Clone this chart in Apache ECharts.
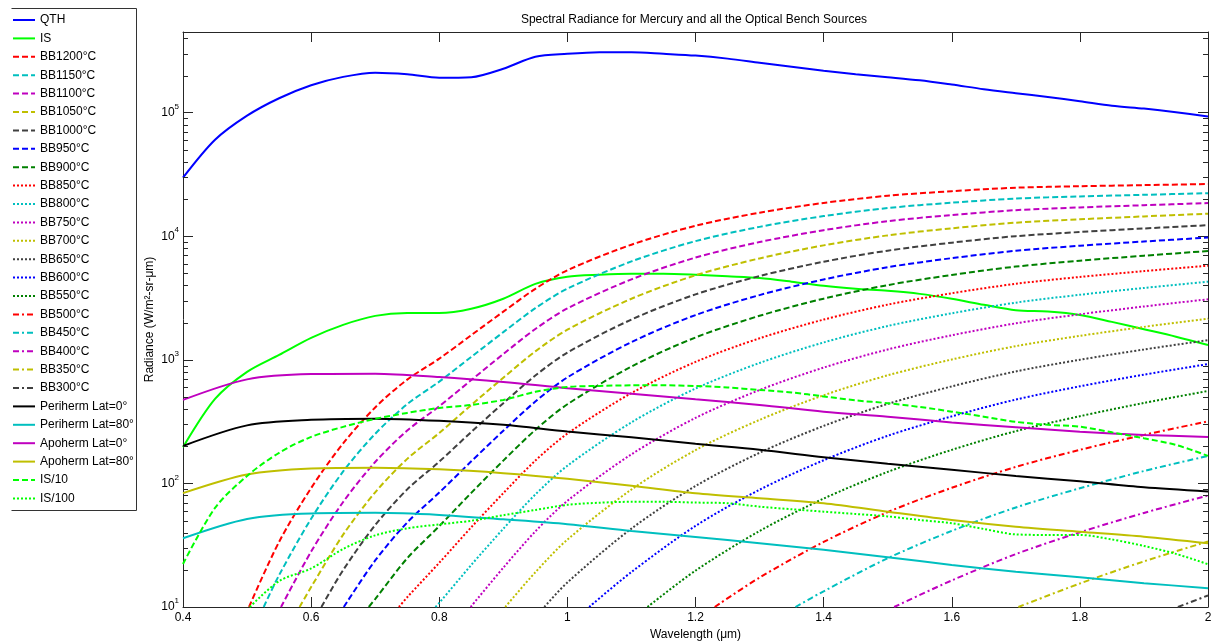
<!DOCTYPE html>
<html><head><meta charset="utf-8">
<script src="https://cdn.jsdelivr.net/npm/echarts@6/dist/echarts.min.js"></script>
<style>html,body{margin:0;padding:0;background:#fff}#chart{width:1211px;height:642px}</style>
</head><body><div id="chart"></div>
<script>
// ---------------- data ----------------
const wlFine = [0.4,0.45,0.5,0.55,0.6,0.65,0.7,0.75,0.8,0.85,0.9,0.95,1.0,1.05,1.1,1.15,1.2,1.25,1.3,1.35,1.4,1.45,1.5,1.55,1.6,1.65,1.7,1.75,1.8,1.85,1.9,1.95,2.0];
const qth = [29800,60400,94700,131000,167000,195000,211000,205000,192000,194000,227000,284000,300000,309000,309000,300000,290000,274000,254000,236000,219000,205000,194000,183000,169000,155000,144000,134000,124000,114000,108000,101000,93300];
const isSphere = [196,483,800,1097,1507,1920,2270,2390,2390,2590,3120,4120,4700,4880,4970,4970,4880,4740,4590,4290,3970,3760,3620,3420,3120,2790,2520,2460,2310,2030,1770,1540,1320];
const is10 = [22.3,63.4,115,177,238,287,333,372,408,432,474,551,604,615,622,622,615,598,571,545,506,470,446,416,381,347,315,298,288,259,232,205,167];
const is100 = [null,null,9.5,16.2,20.5,29.5,38,43.3,46.6,49.9,55.3,61,67.1,69.8,71,71,70,69.2,64.9,61.8,59.1,56.6,54.1,50.6,47.6,42.8,38.7,38.3,38.3,35.2,31.2,26.9,22.2];

const wlPlanet = [0.4,0.5,0.6,0.7,0.8,0.9,1.0,1.1,1.2,1.3,1.4,1.5,1.6,1.7,1.8,1.9,2.0];
const periLat0  = [201,295,327,334,321,298,263,236,209,187,163,144,129,115,104,93,86];
const periLat80 = [36,51.6,57.2,57.8,55.6,51.2,46.8,41.2,36.9,32.8,29,25.3,21.9,19.3,17.4,15.6,14.2];
const apoLat0   = [474,695,767,773,727,663,589,532,479,432,381,347,311,285,262,247,238];
const apoLat80  = [83.4,118,132,134,130,121,109,95.8,83.2,75.9,69.2,59.1,50.6,44.7,40.7,37.1,32.8];

const wlBB = [0.55,0.6,0.65,0.7,0.75,0.8,0.85,0.9,0.95,1.0,1.1,1.2,1.3,1.4,1.5,1.6,1.7,1.8,1.9,2.0];
const bb1200 = [33.7,91.8,211,412,692,1023,1585,2455,3758,5309,8551,12160,15520,18620,21280,23170,24720,25410,25940,26490];
const bb1150 = [18.1,51.8,125,252,438,666,1058,1676,2619,3767,6259,9138,11920,14570,16930,18700,20200,21000,21660,22310];
const bb1100 = [null,28.1,70.8,149,268,421,686,1114,1778,2607,4479,6724,8983,11200,13250,14860,16270,17120,17840,18560];
const bb1050 = [null,14.5,38.5,84.7,158,256,431,717,1172,1754,3124,4834,6623,8444,10170,11600,12890,13730,14480,15220];
const bb1000 = [null,null,19.9,46.0,89.5,150,261,446,747,1145,2120,3386,4769,6223,7652,8882,10020,10830,11570,12290];
const bb950  = [null,null,null,23.8,48.3,84.4,151,267,460,721,1393,2304,3343,4474,5623,6655,7638,8383,9073,9761];
const bb900  = [null,null,null,11.6,24.8,45.1,83.9,153,271,437,883,1518,2273,3128,4026,4865,5686,6344,6967,7598];
const bb850  = [null,null,null,null,12.0,22.8,44.2,83.4,153,253,538,963,1494,2118,2798,3459,4126,4686,5227,5781];
const bb800  = [null,null,null,null,null,10.8,21.9,43.0,81.4,139,312,586,944,1383,1879,2382,2904,3363,3818,4291];
const bb750  = [null,null,null,null,null,null,10.1,20.8,40.9,72.3,172,339,570,866,1214,1581,1975,2337,2704,3092];
const bb700  = [null,null,null,null,null,null,null,null,19.1,35.1,89.3,186,327,517,750,1007,1291,1564,1849,2154];
const bb650  = [null,null,null,null,null,null,null,null,null,15.8,43.1,95.3,177,292,440,610,806,1002,1213,1443];
const bb600  = [null,null,null,null,null,null,null,null,null,null,19.2,45.3,88.9,154,243,349,477,611,759,924];
const bb550  = [null,null,null,null,null,null,null,null,null,null,null,19.7,41.2,75.4,124,187,265,350,448,560];
const bb500  = [null,null,null,null,null,null,null,null,null,null,null,null,17.3,33.6,58.6,92.2,136,187,247,318];
const bb450  = [null,null,null,null,null,null,null,null,null,null,null,null,null,13.4,24.8,41.3,63.9,91.4,126,167];
const bb400  = [null,null,null,null,null,null,null,null,null,null,null,null,null,null,null,16.4,26.8,40.2,57.7,79.9];
const bb350  = [null,null,null,null,null,null,null,null,null,null,null,null,null,null,null,null,null,15.5,23.4,33.9];
const bb300  = [null,null,null,null,null,null,null,null,null,null,null,null,null,null,null,null,null,null,null,12.4];
// wavelength where each blackbody curve leaves the bottom of the plot (value 10)
const bbCross = [0.503,0.526,0.553,0.582,0.616,0.651,0.690,0.737,0.794,0.849,0.903,0.964,1.034,1.125,1.230,1.356,1.510,1.704,1.953];
const bbNames = ['BB1200°C','BB1150°C','BB1100°C','BB1050°C','BB1000°C','BB950°C','BB900°C','BB850°C','BB800°C','BB750°C','BB700°C','BB650°C','BB600°C','BB550°C','BB500°C','BB450°C','BB400°C','BB350°C','BB300°C'];
const bbValues = [bb1200,bb1150,bb1100,bb1050,bb1000,bb950,bb900,bb850,bb800,bb750,bb700,bb650,bb600,bb550,bb500,bb450,bb400,bb350,bb300];

const xTicks = {min:0.4, max:2.0, step:0.2};
const yRange = {min:10, max:450000};
const minorMultipliers = [2,3,4,5,6,7,8,9];

// ---------------- styles ----------------
const COL = {blue:'#0000FF', green:'#00FF00', red:'#FF0000', cyan:'#00BFBF', magenta:'#BF00BF', yellow:'#BFBF00', gray:'#404040', dgreen:'#008000', black:'#000000'};
const DASH = [6,3], DOT = [2,2], DASHDOT = [6,3,2,3];
const bbColors = [COL.red,COL.cyan,COL.magenta,COL.yellow,COL.gray,COL.blue,COL.dgreen,
                  COL.red,COL.cyan,COL.magenta,COL.yellow,COL.gray,COL.blue,COL.dgreen,
                  COL.red,COL.cyan,COL.magenta,COL.yellow,COL.gray];
const bbDash = i => i < 7 ? DASH : (i < 14 ? DOT : DASHDOT);
const FONT = 'Liberation Sans, Arial, sans-serif';
const AX = '#262626';

function pairs(xs, ys){ const out=[]; xs.forEach((x,i)=>{ out.push([x, ys[i]]); }); return out; }
function bbData(vals, cross){
  const pts = [[cross, yRange.min]];
  wlBB.forEach((x,i)=>{ if (vals[i] != null && x > cross + 0.001) pts.push([x, vals[i]]); });
  return pts;
}
function lineSeries(name, data, color, dash){
  return {name, type:'line', data, symbol:'none', smooth:0.3, connectNulls:false,
    lineStyle:{color, width:2, type: dash || 'solid'}, itemStyle:{color},
    emphasis:{disabled:true}, animation:false, z:2};
}

const series = [];
series.push(lineSeries('QTH', pairs(wlFine, qth), COL.blue));
series.push(lineSeries('IS', pairs(wlFine, isSphere), COL.green));
bbNames.forEach((n,i)=>series.push(lineSeries(n, bbData(bbValues[i], bbCross[i]), bbColors[i], bbDash(i))));
series.push(lineSeries('Periherm Lat=0°', pairs(wlPlanet, periLat0), COL.black));
series.push(lineSeries('Periherm Lat=80°', pairs(wlPlanet, periLat80), COL.cyan));
series.push(lineSeries('Apoherm Lat=0°', pairs(wlPlanet, apoLat0), COL.magenta));
series.push(lineSeries('Apoherm Lat=80°', pairs(wlPlanet, apoLat80), COL.yellow));
series.push(lineSeries('IS/10', pairs(wlFine, is10), COL.green, DASH));
series.push(lineSeries('IS/100', pairs(wlFine, is100), COL.green, DOT));
const legendNames = series.map(s=>s.name);

// minor log ticks (2..9 x 10^n) drawn through the y scale, on both sides of the box
const minorData = [];
for (let e = 1; e <= 5; e++) minorMultipliers.forEach(m => { const v = m*Math.pow(10,e); if (v < yRange.max) minorData.push([xTicks.min, v]); });
series.push({
  type:'custom', name:'minorTicks', silent:true, animation:false, z:10, clip:false,
  data: minorData, encode:{x:0, y:1},
  renderItem: (params, api) => {
    const p = api.coord([api.value(0), api.value(1)]);
    const cs = params.coordSys; const y = Math.round(p[1]) + 0.5;
    return {type:'group', children:[
      {type:'line', shape:{x1:cs.x, y1:y, x2:cs.x+5, y2:y}, style:{stroke:AX, lineWidth:1}},
      {type:'line', shape:{x1:cs.x+cs.width-5, y1:y, x2:cs.x+cs.width, y2:y}, style:{stroke:AX, lineWidth:1}}
    ]};
  }
});

const expLabel = v => { const e = Math.log10(v), r = Math.round(e); return Math.abs(e - r) < 1e-6 ? '10{sup|' + r + '}' : ''; };

const xBase = {type:'value', min:xTicks.min, max:xTicks.max, interval:xTicks.step,
  axisLine:{show:true, onZero:false, lineStyle:{color:AX, width:1}},
  axisTick:{show:true, inside:true, length:10, lineStyle:{color:AX}},
  splitLine:{show:false}};
const yBase = {type:'log', logBase:10, min:yRange.min, max:yRange.max,
  axisLine:{show:true, lineStyle:{color:AX, width:1}},
  axisTick:{show:true, inside:true, length:10, lineStyle:{color:AX}},
  splitLine:{show:false}, minorTick:{show:false}};

const option = {
  animation:false,
  backgroundColor:'#fff',
  textStyle:{fontFamily:FONT},
  title:{text:'Spectral Radiance for Mercury and all the Optical Bench Sources', left:689, top:9, textAlign:'center',
    textStyle:{fontSize:12, fontWeight:'normal', color:'#000', fontFamily:FONT}},
  grid:{left:183, right:3, top:32, bottom:35, containLabel:false, outerBoundsMode:'none'},
  legend:{data:legendNames, orient:'vertical', left:12, top:13, padding:0, itemWidth:22, itemHeight:14, itemGap:4.4,
    selectedMode:false,
    itemStyle:{opacity:0, color:'rgba(0,0,0,0)', borderWidth:0},
    lineStyle:{width:'inherit', type:'inherit', color:'inherit'},
    textStyle:{fontSize:12, color:'#000', fontFamily:FONT, lineHeight:14}},
  xAxis:[
    Object.assign({}, xBase, {position:'bottom', name:'Wavelength (μm)', nameLocation:'middle', nameGap:22, nameMoveOverlap:false,
      nameTextStyle:{fontSize:12, color:'#000', fontFamily:FONT},
      axisLabel:{show:true, margin:5, fontSize:12, color:'#000', fontFamily:FONT}}),
    Object.assign({}, xBase, {position:'top', axisLabel:{show:false}})
  ],
  yAxis:[
    Object.assign({}, yBase, {position:'left', name:'Radiance (W/m²-sr-μm)', nameLocation:'middle', nameGap:27, nameMoveOverlap:false,
      nameTextStyle:{fontSize:12, color:'#000', fontFamily:FONT},
      axisLabel:{show:true, margin:4, fontSize:12, color:'#000', fontFamily:FONT, formatter:expLabel,
        rich:{sup:{fontSize:8, padding:[0,0,12,0], color:'#000', fontFamily:FONT}}}}),
    Object.assign({}, yBase, {position:'right', axisLabel:{show:false}})
  ],
  graphic:[{type:'polyline', silent:true, shape:{points:[[11.5,8.5],[136.5,8.5],[136.5,510.5],[11.5,510.5]]},
    style:{stroke:'#333', fill:null, lineWidth:1}}],
  series
};
const chart = echarts.init(document.getElementById('chart'), null, {renderer:'canvas'});
chart.setOption(option);
</script>
</body></html>
